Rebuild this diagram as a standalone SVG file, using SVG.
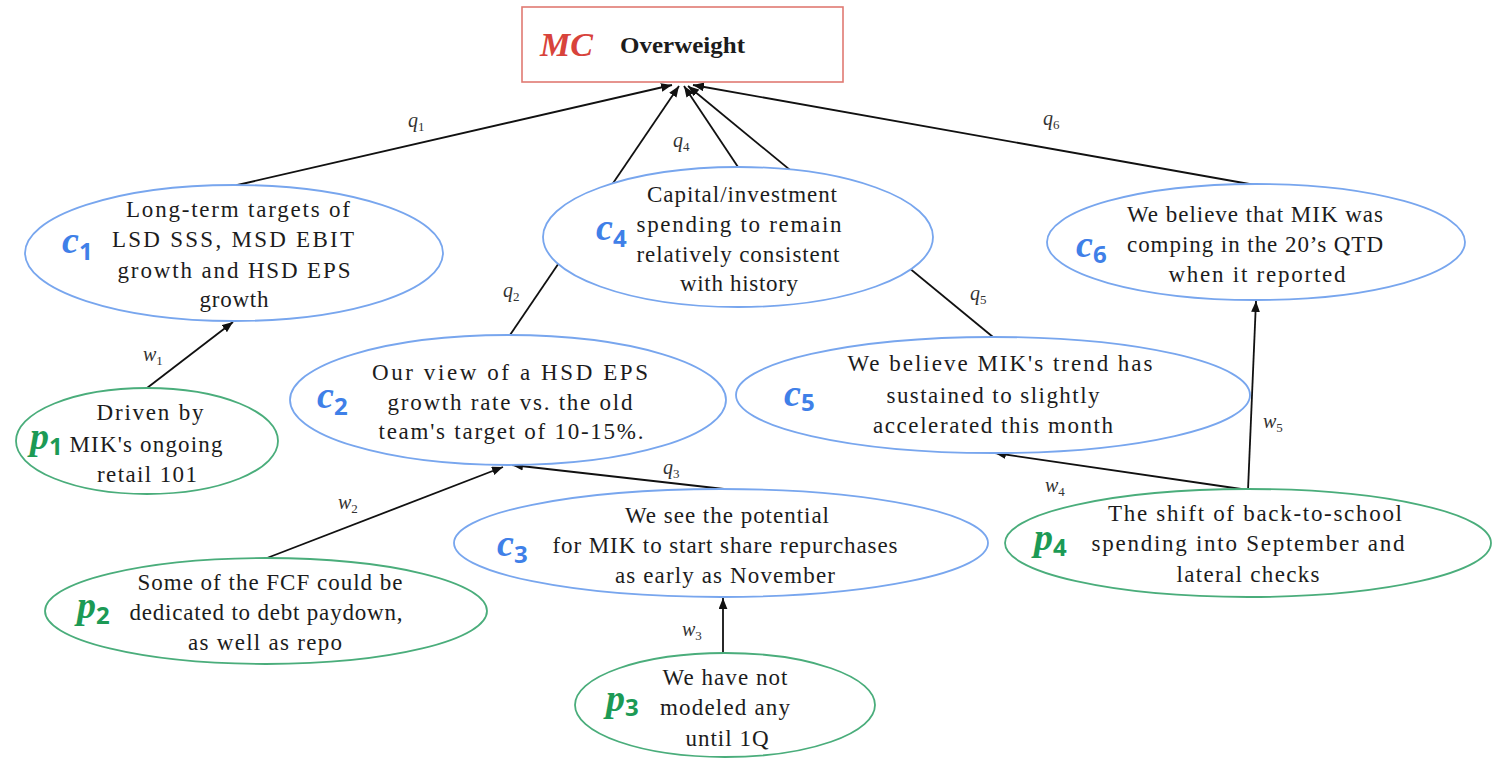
<svg xmlns="http://www.w3.org/2000/svg" width="1496" height="759" viewBox="0 0 1496 759">
<style>
.bg{fill:#ffffff}
.cn{fill:#ffffff;stroke:#78a6ee;stroke-width:1.8}
.pn{fill:#ffffff;stroke:#4aad7b;stroke-width:1.8}
.box{fill:#ffffff;stroke:#e07a72;stroke-width:1.6}
.t{font-family:'Liberation Serif','DejaVu Serif',serif;font-size:23px;fill:#1c1c1c;text-anchor:middle}
.lc{font-family:'Liberation Serif','DejaVu Serif',serif;font-weight:bold;font-style:italic;font-size:38px;fill:#3f80e8}
.lp{font-family:'Liberation Serif','DejaVu Serif',serif;font-weight:bold;font-style:italic;font-size:38px;fill:#1c9a55}
.sub{font-family:'Noto Sans','DejaVu Sans',sans-serif;font-weight:bold;font-style:normal;font-size:24px}
.e{fill:none;stroke:#111111;stroke-width:1.8}
.el{font-family:'Liberation Serif','DejaVu Serif',serif;font-style:italic;font-size:20px;fill:#333333}
.es{font-size:13px;font-style:normal}
.mc{font-family:'Liberation Serif','DejaVu Serif',serif;font-weight:bold;font-style:italic;font-size:34px;fill:#d8433b}
.ow{font-family:'Liberation Serif','DejaVu Serif',serif;font-weight:bold;font-size:24px;fill:#1c1c1c}
</style>
<defs>
<marker id="ah" viewBox="0 0 10 8" refX="10" refY="4" markerWidth="11" markerHeight="9" markerUnits="userSpaceOnUse" orient="auto">
<path d="M0,0 L10,4 L0,8 z" fill="#111111"/>
</marker>
</defs>
<rect class="bg" x="0" y="0" width="1496" height="759"/>

<g id="connectors">
<path class="e" d="M233,186 L672,85" marker-end="url(#ah)"/>
<path class="e" d="M510,335 L679,86" marker-end="url(#ah)"/>
<path class="e" d="M738,167 L684,86" marker-end="url(#ah)"/>
<path class="e" d="M993,337 L688,86" marker-end="url(#ah)"/>
<path class="e" d="M1255,185 L693,85" marker-end="url(#ah)"/>
<path class="e" d="M724,489 L512,465" marker-end="url(#ah)"/>
<path class="e" d="M147,388 L233,322" marker-end="url(#ah)"/>
<path class="e" d="M267,558 L503,467" marker-end="url(#ah)"/>
<path class="e" d="M723,653 L723,598" marker-end="url(#ah)"/>
<path class="e" d="M1248,490 L995,453" marker-end="url(#ah)"/>
<path class="e" d="M1248,490 L1256,301" marker-end="url(#ah)"/>
<text class="el" x="408" y="127">q<tspan class="es" dy="4">1</tspan></text>
<text class="el" x="503" y="297">q<tspan class="es" dy="4">2</tspan></text>
<text class="el" x="673" y="147">q<tspan class="es" dy="4">4</tspan></text>
<text class="el" x="970" y="300">q<tspan class="es" dy="4">5</tspan></text>
<text class="el" x="1043" y="125">q<tspan class="es" dy="4">6</tspan></text>
<text class="el" x="663" y="474">q<tspan class="es" dy="4">3</tspan></text>
<text class="el" x="143" y="361">w<tspan class="es" dy="4">1</tspan></text>
<text class="el" x="338" y="509">w<tspan class="es" dy="4">2</tspan></text>
<text class="el" x="682" y="636">w<tspan class="es" dy="4">3</tspan></text>
<text class="el" x="1045" y="492">w<tspan class="es" dy="4">4</tspan></text>
<text class="el" x="1263" y="428">w<tspan class="es" dy="4">5</tspan></text>
</g>

<g id="MC">
<rect class="box" x="522" y="7" width="321" height="75"/>
<text class="mc" x="540" y="56">MC</text>
<text class="ow" x="620" y="53" textLength="125" lengthAdjust="spacingAndGlyphs">Overweight</text>
</g>

<g id="c1">
<ellipse class="cn" cx="234" cy="253" rx="209" ry="68"/>
<text class="lc" x="62" y="253">c<tspan class="sub" dy="7">1</tspan></text>
<text class="t" x="238" y="217" textLength="224">Long-term targets of</text>
<text class="t" x="233" y="247" textLength="242">LSD SSS, MSD EBIT</text>
<text class="t" x="234" y="278" textLength="233">growth and HSD EPS</text>
<text class="t" x="234" y="307" textLength="69">growth</text>
</g>

<g id="p1">
<ellipse class="pn" cx="147" cy="441" rx="131" ry="53"/>
<text class="lp" x="30" y="449">p<tspan class="sub" dy="6">1</tspan></text>
<text class="t" x="150" y="420" textLength="107">Driven by</text>
<text class="t" x="146" y="452" textLength="153">MIK's ongoing</text>
<text class="t" x="147" y="482" textLength="100">retail 101</text>
</g>

<g id="c4">
<ellipse class="cn" cx="738" cy="237" rx="195" ry="70"/>
<text class="lc" x="596" y="240">c<tspan class="sub" dy="7">4</tspan></text>
<text class="t" x="742" y="202" textLength="190">Capital/investment</text>
<text class="t" x="739" y="232" textLength="205">spending to remain</text>
<text class="t" x="738" y="262" textLength="203">relatively consistent</text>
<text class="t" x="739" y="291" textLength="118">with history</text>
</g>

<g id="c6">
<ellipse class="cn" cx="1256" cy="242" rx="209" ry="58"/>
<text class="lc" x="1076" y="257">c<tspan class="sub" dy="6">6</tspan></text>
<text class="t" x="1255" y="222" textLength="256">We believe that MIK was</text>
<text class="t" x="1255" y="252" textLength="256">comping in the 20’s QTD</text>
<text class="t" x="1257" y="282" textLength="177">when it reported</text>
</g>

<g id="c2">
<ellipse class="cn" cx="508" cy="400" rx="218" ry="65"/>
<text class="lc" x="317" y="408">c<tspan class="sub" dy="7">2</tspan></text>
<text class="t" x="510" y="380" textLength="276">Our view of a HSD EPS</text>
<text class="t" x="510" y="410" textLength="245">growth rate vs. the old</text>
<text class="t" x="511" y="439" textLength="265">team's target of 10-15%.</text>
</g>

<g id="c5">
<ellipse class="cn" cx="993" cy="395" rx="257" ry="58"/>
<text class="lc" x="784" y="406">c<tspan class="sub" dy="5">5</tspan></text>
<text class="t" x="1000" y="371" textLength="305">We believe MIK's trend has</text>
<text class="t" x="993" y="403" textLength="213">sustained to slightly</text>
<text class="t" x="993" y="433" textLength="240">accelerated this month</text>
</g>

<g id="c3">
<ellipse class="cn" cx="721" cy="543" rx="267" ry="54"/>
<text class="lc" x="497" y="556">c<tspan class="sub" dy="7">3</tspan></text>
<text class="t" x="727" y="523" textLength="204">We see the potential</text>
<text class="t" x="725" y="553" textLength="345">for MIK to start share repurchases</text>
<text class="t" x="725" y="583" textLength="220">as early as November</text>
</g>

<g id="p2">
<ellipse class="pn" cx="266" cy="611" rx="221" ry="53"/>
<text class="lp" x="77" y="618">p<tspan class="sub" dy="6">2</tspan></text>
<text class="t" x="270" y="590" textLength="265">Some of the FCF could be</text>
<text class="t" x="266" y="620" textLength="273">dedicated to debt paydown,</text>
<text class="t" x="265" y="650" textLength="154">as well as repo</text>
</g>

<g id="p3">
<ellipse class="pn" cx="725" cy="705" rx="150" ry="52"/>
<text class="lp" x="606" y="711">p<tspan class="sub" dy="5">3</tspan></text>
<text class="t" x="725" y="685" textLength="125">We have not</text>
<text class="t" x="725" y="715" textLength="130">modeled any</text>
<text class="t" x="727" y="746" textLength="83">until 1Q</text>
</g>

<g id="p4">
<ellipse class="pn" cx="1248" cy="543" rx="243" ry="54"/>
<text class="lp" x="1034" y="550">p<tspan class="sub" dy="6">4</tspan></text>
<text class="t" x="1255" y="521" textLength="294">The shift of back-to-school</text>
<text class="t" x="1248" y="551" textLength="313">spending into September and</text>
<text class="t" x="1248" y="582" textLength="143">lateral checks</text>
</g>
</svg>
